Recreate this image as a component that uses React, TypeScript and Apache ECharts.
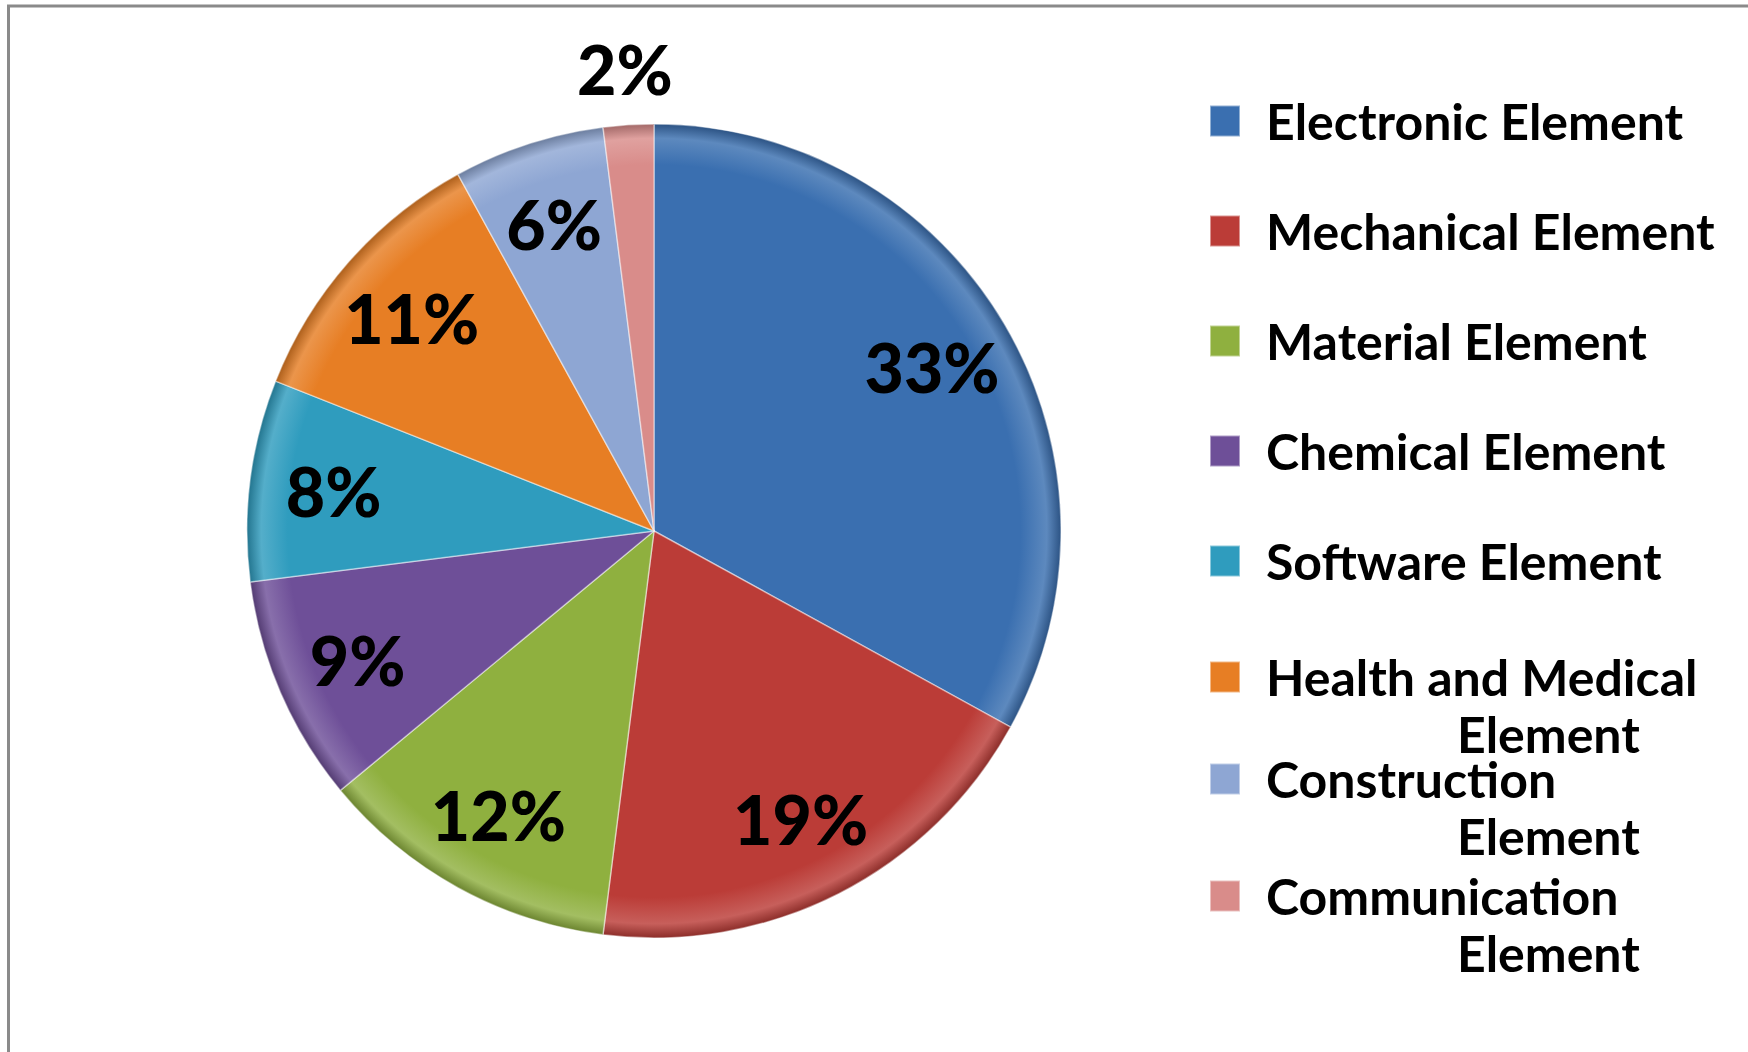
import React, { useEffect, useRef } from "react";
import * as echarts from "echarts";

const categories = [
  "Electronic Element",
  "Mechanical Element",
  "Material Element",
  "Chemical Element",
  "Software Element",
  "Health and Medical Element",
  "Construction Element",
  "Communication Element",
];
const values = [33, 19, 12, 9, 8, 11, 6, 2];
const colors = ["#3a6fb0", "#bb3c37", "#8fb03f", "#6e4f98", "#2f9cbe", "#e77e24", "#8ea6d3", "#d98c8a"];
const wrapped = ["Health and Medical Element", "Construction Element", "Communication Element"];

const FONT = "Lato, 'Liberation Sans', sans-serif";
const CX = 654;
const CY = 531;
const R = 407;

function shade(hex: string, amt: number) {
  const n = parseInt(hex.slice(1), 16);
  let r = (n >> 16) & 255, g = (n >> 8) & 255, b = n & 255;
  const f = (c: number) => (amt >= 0 ? Math.round(c + (255 - c) * amt) : Math.round(c * (1 + amt)));
  r = f(r); g = f(g); b = f(b);
  return `rgb(${r},${g},${b})`;
}

function sliceFill(c: string) {
  return {
    type: "radial",
    x: CX,
    y: CY,
    r: R,
    global: true,
    colorStops: [
      { offset: 0, color: c },
      { offset: 0.9, color: c },
      { offset: 0.965, color: shade(c, 0.18) },
      { offset: 1, color: shade(c, -0.25) },
    ],
  };
}

export default function App() {
  const ref = useRef<HTMLDivElement>(null);
  useEffect(() => {
    if (!ref.current) return;
    const chart = echarts.init(ref.current, undefined, { renderer: "svg" });

    const legendText = (pad: number[]) => ({
      fontFamily: FONT,
      fontWeight: "bold",
      fontSize: 50,
      color: "#000",
      lineHeight: 57,
      padding: pad,
      rich: {
        b: { fontFamily: FONT, fontWeight: "bold", fontSize: 50, color: "#000", lineHeight: 57, padding: [0, 0, 0, 191] },
      },
    });
    const legendData = (names: string[]) =>
      names.map((n) => ({ name: n, itemStyle: { color: colors[categories.indexOf(n)] } }));
    const fmt = (name: string) => {
      if (wrapped.indexOf(name) >= 0) {
        const i = name.lastIndexOf(" ");
        return name.slice(0, i) + "\n{b|" + name.slice(i + 1) + "}";
      }
      return name;
    };
    const baseLegend = {
      orient: "vertical",
      left: 1209,
      padding: 0,
      itemWidth: 30,
      itemHeight: 31,
      icon: "rect",
      selectedMode: false,
      formatter: fmt,
    };
    const single = categories.filter((c) => wrapped.indexOf(c) < 0);
    const legendTops = [591.5, 693.5, 810.5];

    chart.setOption({
      animation: false,
      backgroundColor: "#ffffff",
      graphic: [
        {
          type: "rect",
          shape: { x: 8.5, y: 6, width: 1800, height: 1100 },
          style: { fill: "none", stroke: "#8a8a8a", lineWidth: 3 },
          silent: true,
        },
      ],
      legend: [
        { ...baseLegend, top: 92.5, itemGap: 53, data: legendData(single), textStyle: legendText([0, 0, 0, 21]) },
        ...wrapped.map((n, k) => ({
          ...baseLegend,
          top: legendTops[k],
          data: legendData([n]),
          textStyle: legendText([57, 0, 0, 21]),
        })),
      ],
      series: [
        {
          type: "pie",
          center: [CX, CY],
          radius: [0, R],
          startAngle: 90,
          clockwise: true,
          silent: true,
          emphasis: { disabled: true },
          label: { show: false },
          labelLine: { show: false },
          data: categories.map((n, i) => ({
            name: n,
            value: values[i],
            itemStyle: { color: sliceFill(colors[i]), borderColor: "rgba(255,255,255,0.45)", borderWidth: 1.5 },
          })),
        },
        {
          type: "pie",
          center: [CX, CY],
          radius: [233, R],
          startAngle: 90,
          clockwise: true,
          silent: true,
          emphasis: { disabled: true },
          itemStyle: { color: "rgba(0,0,0,0)", borderWidth: 0 },
          labelLine: { show: false },
          label: {
            position: "inside",
            formatter: "{c}%",
            fontFamily: FONT,
            fontWeight: 900,
            fontSize: 68,
            color: "#000",
          },
          data: categories.map((n, i) => ({ name: n, value: values[i], label: { show: values[i] >= 3 } })),
        },
        {
          type: "pie",
          center: [CX, CY],
          radius: [R, R + 106],
          startAngle: 90,
          clockwise: true,
          silent: true,
          emphasis: { disabled: true },
          itemStyle: { color: "rgba(0,0,0,0)", borderWidth: 0 },
          labelLine: { show: false },
          label: {
            position: "inside",
            formatter: "{c}%",
            fontFamily: FONT,
            fontWeight: 900,
            fontSize: 68,
            color: "#000",
          },
          data: categories.map((n, i) => ({ name: n, value: values[i], label: { show: values[i] < 3 } })),
        },
      ],
    });
    return () => chart.dispose();
  }, []);
  return (
    <div
      ref={ref}
      style={{ position: "fixed", left: 0, top: 0, width: 1748, height: 1052, background: "#fff" }}
    />
  );
}
